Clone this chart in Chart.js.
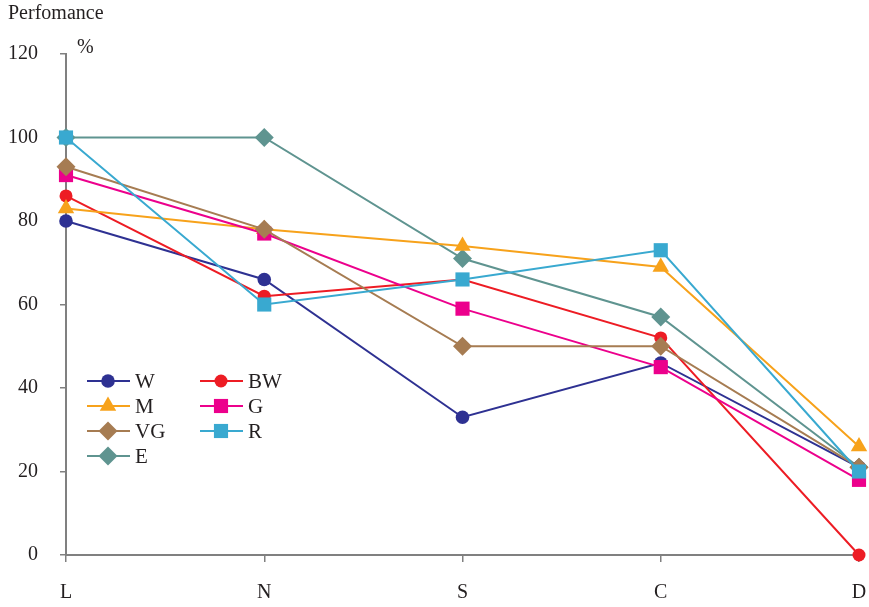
<!DOCTYPE html>
<html>
<head>
<meta charset="utf-8">
<script src="https://cdn.jsdelivr.net/npm/chart.js@4.4.1/dist/chart.umd.min.js"></script>
<style>
  html, body { margin: 0; padding: 0; background: #fff; }
  #wrap { width: 869px; height: 607px; position: relative; }
</style>
</head>
<body>
<div id="wrap"><canvas id="chart1"></canvas></div>
<script>
// categories and values
const categories = ["L", "N", "S", "C", "D"];
const seriesNames = ["W", "BW", "M", "G", "VG", "R", "E"];
const W  = [80, 66, 33, 46, 21];
const BW = [86, 62, 66, 52, 0];
const M  = [83, 78, 74, 69, 26];
const G  = [91, 77, 59, 45, 18];
const VG = [93, 78, 50, 50, 21];
const R  = [100, 60, 66, 73, 20];
const E  = [100, 100, 71, 57, 21];
const yTicks = [0, 20, 40, 60, 80, 100, 120];

const FONT = "'Liberation Serif', 'Times New Roman', serif";
const AXIS_COLOR = '#808080';

var makeSet = function (label, data, color, style, radius, order) {
    return {
        label: label,
        data: data,
        borderColor: color,
        backgroundColor: color,
        pointBackgroundColor: color,
        pointBorderColor: color,
        pointBorderWidth: 0,
        pointStyle: style,
        pointRadius: radius,
        pointHoverRadius: radius,
        borderWidth: 2,
        tension: 0,
        clip: false,
        order: order
    };
};

// stacking as in the original: E at the bottom, R on top (lower order = drawn on top)
const datasets = [
    makeSet(seriesNames[0], W, '#2e3192', 'circle', 6.8, 6),
    makeSet(seriesNames[1], BW, '#ed1c24', 'circle', 6.5, 5),
    makeSet(seriesNames[2], M, '#f7a21b', 'triangle', 9.5, 4),
    makeSet(seriesNames[3], G, '#ec008c', 'rect', 10, 3),
    makeSet(seriesNames[4], VG, '#a67c52', 'rectRot', 9.5, 2),
    makeSet(seriesNames[5], R, '#39a9d0', 'rect', 10, 1),
    makeSet(seriesNames[6], E, '#5f9490', 'rectRot', 9.5, 7)
];

// legend inside the plot + axis captions
const extras = {
    id: 'extras',
    afterDraw(chart) {
        const ctx = chart.ctx;
        ctx.save();
        ctx.fillStyle = '#231f20';
        ctx.font = '20px ' + FONT;
        ctx.textBaseline = 'middle';
        ctx.textAlign = 'left';
        ctx.fillText('Perfomance', 8, 14);
        ctx.fillText('%', 77, 48);

        ctx.font = '21px ' + FONT;
        const cols = [87, 200];
        const rows = [381, 406, 431, 456];
        chart.data.datasets.forEach((ds, i) => {
            const x = cols[i % 2];
            const y = rows[Math.floor(i / 2)];
            ctx.strokeStyle = ds.borderColor;
            ctx.lineWidth = 2;
            ctx.beginPath();
            ctx.moveTo(x, y);
            ctx.lineTo(x + 43, y);
            ctx.stroke();
            ctx.fillStyle = ds.backgroundColor;
            Chart.helpers.drawPoint(ctx, {
                pointStyle: ds.pointStyle,
                radius: ds.pointRadius,
                rotation: 0,
                borderWidth: 0
            }, x + 21, y);
            ctx.fillStyle = '#231f20';
            ctx.fillText(ds.label, x + 48, y + 1);
        });
        ctx.restore();
    }
};

charts = {};
charts["main"] = new Chart(document.getElementById('chart1').getContext('2d'), {
    type: 'line',
    data: {
        labels: categories,
        datasets: datasets
    },
    options: {
        responsive: true,
        maintainAspectRatio: false,
        animation: false,
        layout: { padding: { top: 54, right: 4, left: 0, bottom: 0 } },
        plugins: {
            legend: { display: false },
            tooltip: { enabled: false }
        },
        scales: {
            x: {
                offset: false,
                grid: { drawOnChartArea: false, drawTicks: true, tickLength: 7, color: AXIS_COLOR, lineWidth: 1.5 },
                border: { color: AXIS_COLOR, width: 2 },
                ticks: { color: '#231f20', font: { family: FONT, size: 20 }, padding: 19, maxRotation: 0 },
                afterFit(scale) {
                    scale.height = 52;
                    scale.paddingLeft = 0;
                    scale.paddingRight = 0;
                }
            },
            y: {
                min: 0,
                max: 120,
                afterBuildTicks(scale) { scale.ticks = yTicks.map(v => ({ value: v })); },
                grid: { drawOnChartArea: false, drawTicks: true, tickLength: 6, color: AXIS_COLOR, lineWidth: 1.5 },
                border: { color: AXIS_COLOR, width: 2 },
                ticks: { color: '#231f20', font: { family: FONT, size: 20 }, padding: 22 },
                afterFit(scale) {
                    scale.width = 66;
                    scale.paddingTop = 0;
                    scale.paddingBottom = 0;
                }
            }
        }
    },
    plugins: [extras]
});
</script>
</body>
</html>
